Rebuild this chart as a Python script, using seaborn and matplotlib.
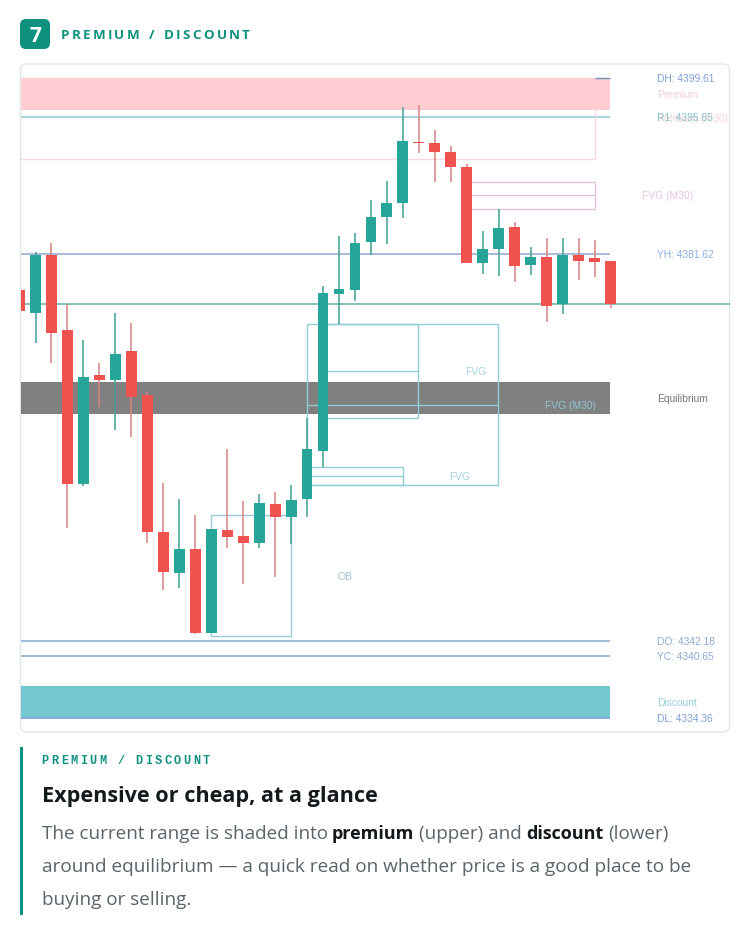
import numpy as np
import pandas as pd
import seaborn as sns
import matplotlib.pyplot as plt
from matplotlib.patches import FancyBboxPatch, Rectangle

# candles, one entry per bar
opens = [4378.00, 4375.65, 4381.57, 4373.92, 4358.22, 4369.33, 4368.82, 4371.78, 4367.30, 4353.33,
         4349.15, 4351.60, 4343.03, 4353.53, 4352.92, 4352.21, 4356.18, 4354.86, 4356.69, 4361.59,
         4377.59, 4378.00, 4382.89, 4385.44, 4386.87, 4393.09, 4392.98, 4392.07, 4390.54, 4380.75,
         4382.18, 4384.42, 4380.55, 4381.36, 4376.57, 4381.57, 4381.26, 4380.95]
closes = [4375.86, 4381.57, 4373.62, 4358.22, 4369.13, 4368.82, 4371.47, 4367.09, 4353.33, 4349.25,
          4351.60, 4343.03, 4353.63, 4352.82, 4352.21, 4356.29, 4354.86, 4356.59, 4361.79, 4377.69,
          4378.10, 4382.79, 4385.44, 4386.87, 4393.19, 4393.00, 4392.07, 4390.54, 4380.75, 4382.18,
          4384.32, 4380.45, 4381.36, 4376.37, 4381.57, 4380.95, 4380.85, 4376.57]
highs = [4378.00, 4381.87, 4382.79, 4376.57, 4372.90, 4370.56, 4375.65, 4374.63, 4367.60, 4358.32,
         4356.69, 4355.06, 4353.63, 4361.79, 4356.49, 4357.20, 4357.41, 4358.12, 4364.95, 4378.41,
         4383.50, 4383.81, 4387.17, 4389.11, 4396.65, 4396.86, 4394.31, 4392.68, 4390.84, 4384.01,
         4386.26, 4384.93, 4382.38, 4383.30, 4383.30, 4383.30, 4383.10, 4380.95]
lows = [4375.86, 4372.60, 4370.56, 4353.74, 4358.02, 4366.07, 4363.73, 4363.01, 4352.21, 4347.42,
        4347.62, 4342.93, 4343.03, 4351.70, 4348.03, 4351.70, 4348.74, 4352.11, 4354.86, 4359.96,
        4374.53, 4376.88, 4381.57, 4382.69, 4385.34, 4391.96, 4389.01, 4389.01, 4380.75, 4379.63,
        4379.43, 4378.81, 4379.53, 4374.74, 4375.55, 4379.02, 4379.32, 4376.16]

# levels and zones
day_high = 4399.61
day_low = 4334.36
r1_level = 4395.63
yest_high = 4381.62
last_level = 4376.57
day_open = 4342.18
yest_close = 4340.65
premium_zone = (4396.35, 4399.61)
equil_zone = (4365.36, 4368.62)
discount_zone = (4334.36, 4337.63)

# boxes as left bar, right bar, bottom price, top price, middle price
premium_box = (0, 36, 4391.35, 4399.61, None)
fvg_pink_box = (28, 36, 4386.26, 4389.01, 4387.68)
fvg_big_box = (18, 29.97, 4358.12, 4374.53, 4366.28)
fvg_upper_box = (19, 24.97, 4364.95, 4374.53, 4369.74)
fvg_lower_box = (18, 24, 4358.12, 4359.96, 4359.04)
ob_box = (12, 17, 4342.73, 4355.06, None)

# chart labels: text, bar position, price, colour
chart_labels = [
    ("DH: 4399.61", 39.9, 4399.61, "#7f9fd6"),
    ("Premium", 39.9, 4397.98, "#f9cdd2"),
    ("Premium (M30)", 39.9, 4395.50, "#f9d3d7"),
    ("R1: 4395.65", 39.9, 4395.63, "#86c4cf"),
    ("FVG (M30)", 38.95, 4387.68, "#eac3de"),
    ("YH: 4381.62", 39.9, 4381.62, "#8cafe0"),
    ("FVG", 27.9, 4369.74, "#a3d3df"),
    ("FVG (M30)", 32.9, 4366.28, "#8fc3d2"),
    ("Equilibrium", 39.9, 4367.00, "#777777"),
    ("FVG", 26.9, 4359.04, "#a3d3df"),
    ("OB", 19.9, 4348.84, "#a3c7de"),
    ("DO: 4342.18", 39.9, 4342.18, "#8caad8"),
    ("YC: 4340.65", 39.9, 4340.65, "#8caad8"),
    ("Discount", 39.9, 4335.95, "#92d1da"),
    ("DL: 4334.36", 39.9, 4334.30, "#7f9fd6"),
]

section_title = "PREMIUM / DISCOUNT"
badge_text = "7"
caption_title = "Expensive or cheap, at a glance"

GREEN = "#26a69a"
RED = "#ef5350"
TEAL = "#0f9180"
BOX_BLUE = "#92ccd9"

sns.set_theme(style="white")
plt.rcParams["font.family"] = ["Open Sans", "DejaVu Sans"]

fig = plt.figure(figsize=(7.5, 9.37), dpi=100, facecolor="white")

# page layer in pixel coordinates
page = fig.add_axes([0, 0, 1, 1], zorder=0)
page.set_xlim(0, 750)
page.set_ylim(937, 0)
page.axis("off")


def spaced(x, y, text, step, **kw):
    # no letter spacing in matplotlib, so put the letters one by one
    rend = fig.canvas.get_renderer()
    for ch in text:
        if ch == " ":
            x += step[1]
            continue
        t = page.text(x, y, ch, va="center", ha="left", **kw)
        x += t.get_window_extent(rend).width + step[0]


def run(x, y, parts):
    rend = fig.canvas.get_renderer()
    for txt, weight, col, size in parts:
        t = page.text(x, y, txt, va="center", ha="left", fontsize=size, fontweight=weight, color=col)
        x += t.get_window_extent(rend).width + 4.6


page.add_patch(FancyBboxPatch((20, 20), 30, 30, boxstyle="round,pad=0,rounding_size=6",
                              fc=TEAL, ec="none"))
page.text(35, 36, badge_text, color="white", fontsize=15, fontweight="bold", ha="center", va="center")
spaced(60.5, 35.5, section_title, (2.35, 7), color=TEAL, fontsize=9.6, fontweight="bold")

page.add_patch(FancyBboxPatch((20.5, 65), 709, 668, boxstyle="round,pad=0,rounding_size=6",
                              fc="white", ec="#dfe8e8", lw=1))

page.add_patch(Rectangle((20, 748), 3, 168, fc=TEAL, ec="none"))
spaced(41.5, 761.5, section_title, (2.5, 8.4), color=TEAL, fontsize=8.6, family="Liberation Mono",
       fontweight="bold")
page.text(41.5, 796.5, caption_title, color="#14191c", fontsize=15.6, fontweight="bold", va="center")
grey = "#5b6468"
dark = "#14191c"
run(41.5, 834.5, [("The current range is shaded into", "normal", grey, 13.55), ("premium", "bold", dark, 13.0),
                  ("(upper) and", "normal", grey, 13.55), ("discount", "bold", dark, 13.0),
                  ("(lower)", "normal", grey, 13.55)])
page.text(41.5, 867.5, "around equilibrium \u2014 a quick read on whether price is a good place to be",
          color=grey, fontsize=13.7, va="center")
page.text(41.5, 900.5, "buying or selling.", color=grey, fontsize=13.6, va="center")

# chart layer in bars and prices
ax = fig.add_axes([21 / 750, 1 - 733.8 / 937, 709 / 750, 668 / 937], zorder=1)
ax.patch.set_alpha(0)

df = pd.DataFrame({"bar": np.arange(len(opens)), "open": opens, "close": closes,
                   "high": highs, "low": lows})
df["body"] = (df["close"] - df["open"]).abs().clip(lower=0.08)
df["bottom"] = df[["open", "close"]].min(axis=1)
df["up"] = df["close"] >= df["open"]

# candle x: bar 1 sits at 35.5 px and the spacing is 16 px
right_end = 36.94
left_end = 0

for lo, hi, col, z in [(premium_zone[0], premium_zone[1], "#ffcdd2", 2),
                       (equil_zone[0], equil_zone[1], "#808080", 1),
                       (discount_zone[0], discount_zone[1], "#74c7d1", 1)]:
    ax.fill_between([left_end, right_end], lo, hi, color=col, lw=0, zorder=z)

ax.hlines(day_high, 36, right_end, color="#6f93b5", lw=1, zorder=3)
ax.hlines(r1_level, left_end, right_end, color="#8cc9d2", lw=1.1, zorder=1.5)
ax.hlines(yest_high, left_end, right_end, color="#a9bcd8", lw=1.4, zorder=1.5)
ax.hlines(last_level, left_end, 45, color="#6fb8b2", lw=1.2, zorder=1.5)
ax.hlines(day_open, left_end, right_end, color="#8fb0d6", lw=1.2, zorder=1.5)
ax.hlines(yest_close, left_end, right_end, color="#8fb0d6", lw=1.2, zorder=1.5)
ax.hlines(day_low, left_end, right_end, color="#7fa6d6", lw=1.3, zorder=2.5)

for box, col in [(premium_box, "#fad9dc"), (fvg_pink_box, "#e8c3de"), (fvg_big_box, BOX_BLUE),
                 (fvg_upper_box, BOX_BLUE), (fvg_lower_box, BOX_BLUE), (ob_box, "#9accd8")]:
    x0, x1, lo, hi, mid = box
    ax.add_patch(Rectangle((x0, lo), x1 - x0, hi - lo, fc="none", ec=col, lw=1.0, zorder=1.7))
    if mid is not None:
        ax.hlines(mid, x0, x1, color=col, lw=1.0, zorder=1.7)

# wicks first, bodies on top
ax.vlines(df.loc[df["up"], "bar"], df.loc[df["up"], "low"], df.loc[df["up"], "high"],
          color="#3f9f98", lw=1.1, zorder=3)
ax.vlines(df.loc[~df["up"], "bar"], df.loc[~df["up"], "low"], df.loc[~df["up"], "high"],
          color="#dd8080", lw=1.1, zorder=3)

ups = df[df["up"]]
downs = df[~df["up"]]
sns.barplot(data=ups, x="bar", y="body", bottom=ups["bottom"].values, native_scale=True, color=GREEN,
            saturation=1, width=0.68, errorbar=None, linewidth=0, zorder=4, ax=ax)
sns.barplot(data=downs, x="bar", y="body", bottom=downs["bottom"].values, native_scale=True, color=RED,
            saturation=1, width=0.68, errorbar=None, linewidth=0, zorder=4, ax=ax)

for txt, x, y, col in chart_labels:
    ax.text(x, y, txt, color=col, fontsize=7.4, family="Liberation Sans", va="center", ha="left",
            zorder=5, clip_on=False)

ax.set_xlim(0.0915, 44.48)
ax.set_ylim(4332.84, 4400.94)
ax.axis("off")

fig.savefig("out.png", dpi=100)
